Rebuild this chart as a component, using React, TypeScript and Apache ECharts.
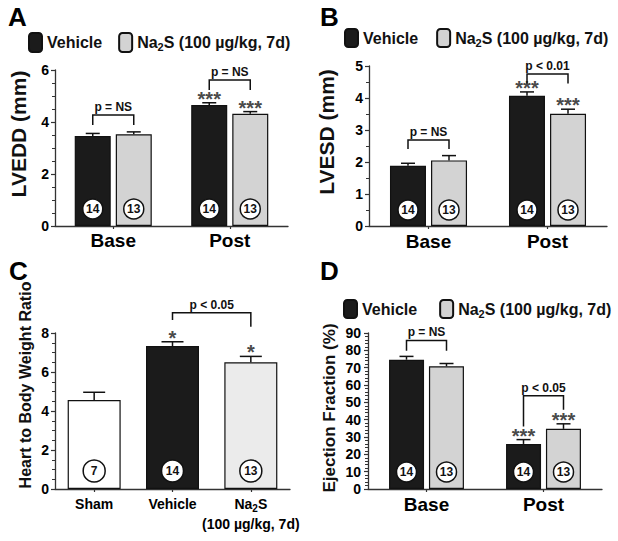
import React, { useEffect, useRef } from 'react';
import * as echarts from 'echarts';

const FONT = '"Liberation Sans", Arial, Helvetica, sans-serif';

// ---------- data ----------
const timepoints = ['Base', 'Post'];
const seriesNames = ['Vehicle', 'Na2S'];

const lveddVehicle = [3.46, 4.65];
const lveddVehicleSem = [0.1, 0.09];
const lveddNa2s = [3.53, 4.32];
const lveddNa2sSem = [0.09, 0.08];

const lvesdVehicle = [1.88, 4.07];
const lvesdVehicleSem = [0.08, 0.12];
const lvesdNa2s = [2.05, 3.51];
const lvesdNa2sSem = [0.15, 0.14];

const efVehicle = [74.6, 26.0];
const efVehicleSem = [1.9, 2.5];
const efNa2s = [70.8, 34.7];
const efNa2sSem = [1.6, 2.9];

const nVehicle = [14, 14];
const nNa2s = [13, 13];
const starsVehicle = ['', '***'];
const starsNa2s = ['', '***'];

const hbwGroups = ['Sham', 'Vehicle', 'Na2S'];
const hbwValues = [4.56, 7.33, 6.5];
const hbwSem = [0.4, 0.22, 0.3];
const hbwN = [7, 14, 13];
const hbwStars = ['', '*', '*'];

// significance brackets (data units)
const lveddBracketTop = [4.27, 5.62];
const lveddBracketLegL = [3.88, 5.23];
const lveddBracketLegR = [3.88, 5.23];
const lveddBracketLabel = ['p = NS', 'p = NS'];

const lvesdBracketTop = [2.69, 4.75];
const lvesdBracketLegL = [2.41, 4.45];
const lvesdBracketLegR = [2.41, 4.45];
const lvesdBracketLabel = ['p = NS', 'p < 0.01'];

const efBracketTop = [85.7, 53.8];
const efBracketLegL = [79.8, 36.0];
const efBracketLegR = [79.8, 45.7];
const efBracketLabel = ['p = NS', 'p < 0.05'];

const hbwBracketFrom = [1];
const hbwBracketTo = [2];
const hbwBracketTop = [9.04];
const hbwBracketLegL = [8.67];
const hbwBracketLegR = [8.32];
const hbwBracketLabel = ['p < 0.05'];

// ---------- styles ----------
const BLACK = '#1b1b1b';
const GRAY = '#d3d3d3';
const LIGHT = '#ebebeb';
const AXIS = '#333';

function xAxisCat(gridIndex: number, data: string[], fontSize: number, margin: number, extra: any = {}) {
  return {
    type: 'category',
    gridIndex,
    data,
    axisLine: { lineStyle: { color: AXIS, width: 1.3 } },
    axisTick: { show: true, alignWithLabel: true, length: 3, lineStyle: { color: AXIS, width: 1.2 } },
    axisLabel: { color: '#000', fontSize, fontWeight: 'bold', fontFamily: FONT, margin, interval: 0, ...extra },
    splitLine: { show: false },
  };
}

function yAxisVal(gridIndex: number, max: number, interval: number, minorSplit: number, margin: number) {
  return {
    type: 'value',
    gridIndex,
    min: 0,
    max,
    interval,
    axisLine: { show: true, lineStyle: { color: AXIS, width: 1.3 } },
    axisTick: { show: true, length: 4, lineStyle: { color: AXIS, width: 1.2 } },
    minorTick: { show: true, splitNumber: minorSplit, length: 3, lineStyle: { color: AXIS, width: 1 } },
    axisLabel: { color: '#000', fontSize: 14, fontWeight: 'bold', fontFamily: FONT, margin },
    splitLine: { show: false },
    minorSplitLine: { show: false },
  };
}

function barSeries(name: string, gridIndex: number, data: any[], color: string, barWidth: number, barGap: string) {
  return {
    type: 'bar',
    name,
    xAxisIndex: gridIndex,
    yAxisIndex: gridIndex,
    data,
    barWidth,
    barGap,
    silent: true,
    itemStyle: { color, borderColor: '#111', borderWidth: 1.2 },
  };
}

function overlaySeries(
  gridIndex: number,
  values: number[],
  sems: number[],
  ns: number[],
  stars: string[],
  offset: number,
  capHalf: number,
  r: number,
  lift: number
) {
  return {
    type: 'custom',
    xAxisIndex: gridIndex,
    yAxisIndex: gridIndex,
    silent: true,
    clip: false,
    z: 5,
    data: values.map((v, i) => [i, v]),
    renderItem: (params: any, api: any) => {
      const i = params.dataIndex;
      const pBar = api.coord([i, values[i]]);
      const pErr = api.coord([i, values[i] + sems[i]]);
      const pZero = api.coord([i, 0]);
      const x = pBar[0] + offset;
      const ls = { stroke: '#111', lineWidth: 1.5 };
      const children: any[] = [
        { type: 'line', shape: { x1: x, y1: pBar[1], x2: x, y2: pErr[1] }, style: ls },
        { type: 'line', shape: { x1: x - capHalf, y1: pErr[1], x2: x + capHalf, y2: pErr[1] }, style: ls },
        {
          type: 'circle',
          shape: { cx: x, cy: pZero[1] - lift, r },
          style: { fill: '#fff', stroke: '#111', lineWidth: 1.5 },
        },
        {
          type: 'text',
          x,
          y: pZero[1] - lift,
          style: {
            text: String(ns[i]),
            font: `bold 12px ${FONT}`,
            fill: '#111',
            align: 'center',
            verticalAlign: 'middle',
          },
        },
      ];
      if (stars[i]) {
        children.push({
          type: 'text',
          x,
          y: pErr[1] - 4,
          style: {
            text: stars[i],
            font: `bold 20px ${FONT}`,
            fill: '#4a4a4a',
            align: 'center',
            verticalAlign: 'middle',
          },
        });
      }
      return { type: 'group', children };
    },
  };
}

function bracketSeries(
  gridIndex: number,
  fromCats: number[],
  toCats: number[],
  offFrom: number,
  offTo: number,
  tops: number[],
  legL: number[],
  legR: number[],
  labels: string[]
) {
  return {
    type: 'custom',
    xAxisIndex: gridIndex,
    yAxisIndex: gridIndex,
    silent: true,
    clip: false,
    z: 6,
    data: fromCats.map((c, i) => [c, tops[i]]),
    renderItem: (params: any, api: any) => {
      const i = params.dataIndex;
      const a = api.coord([fromCats[i], legL[i]]);
      const b = api.coord([toCats[i], legR[i]]);
      const t = api.coord([fromCats[i], tops[i]]);
      const x1 = a[0] + offFrom;
      const x2 = b[0] + offTo;
      return {
        type: 'group',
        children: [
          {
            type: 'polyline',
            shape: { points: [[x1, a[1]], [x1, t[1]], [x2, t[1]], [x2, b[1]]] },
            style: { stroke: '#111', lineWidth: 1.5, fill: null },
          },
          {
            type: 'text',
            x: (x1 + x2) / 2,
            y: t[1] - 2,
            style: {
              text: labels[i],
              font: `bold 12px ${FONT}`,
              fill: '#111',
              align: 'center',
              verticalAlign: 'bottom',
            },
          },
        ],
      };
    },
  };
}

const legendRich = {
  t: { fontSize: 16, fontWeight: 'bold', fontFamily: FONT, color: '#111', lineHeight: 20 },
  s: { fontSize: 11, fontWeight: 'bold', fontFamily: FONT, color: '#111', lineHeight: 20, padding: [9, 0, 0, 0] },
};

function legendAt(left: number, top: number, itemHeight: number, itemGap: number) {
  return {
    left,
    top,
    padding: 0,
    itemWidth: 13,
    itemHeight,
    itemGap,
    selectedMode: false,
    data: seriesNames,
    textStyle: { fontSize: 16, fontWeight: 'bold', fontFamily: FONT, color: '#111', rich: legendRich },
    formatter: (name: string) => (name === 'Na2S' ? '{t|Na}{s|2}{t|S (100 µg/kg, 7d)}' : '{t|' + name + '}'),
  };
}

function yTitle(text: string, x: number, y: number, size: number) {
  return {
    type: 'text',
    x,
    y,
    rotation: Math.PI / 2,
    style: { text, font: `bold ${size}px ${FONT}`, fill: '#111', align: 'center', verticalAlign: 'middle' },
  };
}

function panelLetter(text: string, x: number, y: number) {
  return {
    type: 'text',
    x,
    y,
    style: { text, font: `bold 26px ${FONT}`, fill: '#000', align: 'left', verticalAlign: 'top' },
  };
}

function buildOption(): any {
  const hbwData = hbwValues.map((v, i) => ({
    value: v,
    itemStyle: { color: ['#ffffff', BLACK, LIGHT][i] },
  }));
  return {
    animation: false,
    backgroundColor: '#fff',
    textStyle: { fontFamily: FONT },
    grid: [
      { left: 55, top: 70, width: 233, height: 156 },
      { left: 369, top: 66, width: 238, height: 160 },
      { left: 55, top: 333, width: 235, height: 156 },
      { left: 368, top: 333, width: 234, height: 156 },
    ],
    xAxis: [
      xAxisCat(0, timepoints, 19, 5),
      xAxisCat(1, timepoints, 19, 6),
      xAxisCat(2, hbwGroups, 14, 5, {
        formatter: (v: string) =>
          v === 'Na2S' ? '{b|Na}{s|2}{b|S}\n{b|(100 µg/kg, 7d)}' : '{b|' + v + '}',
        rich: {
          b: { fontSize: 14, fontWeight: 'bold', fontFamily: FONT, color: '#000', lineHeight: 20 },
          s: { fontSize: 10, fontWeight: 'bold', fontFamily: FONT, color: '#000', lineHeight: 20, padding: [8, 0, 0, 0] },
        },
      }),
      xAxisCat(3, timepoints, 19, 6),
    ],
    yAxis: [
      yAxisVal(0, 6, 2, 4, 6),
      yAxisVal(1, 5, 1, 2, 6),
      yAxisVal(2, 8, 2, 4, 6),
      yAxisVal(3, 90, 10, 5, 7),
    ],
    legend: [legendAt(28, 32, 19, 16), legendAt(344, 28, 18, 18), legendAt(343, 299, 18, 22)],
    graphic: [
      panelLetter('A', 8, 4),
      panelLetter('B', 320, 4),
      panelLetter('C', 9, 258),
      panelLetter('D', 320, 258),
      yTitle('LVEDD (mm)', 18, 134, 21),
      yTitle('LVESD (mm)', 326, 132, 21),
      yTitle('Heart to Body Weight Ratio', 25, 385, 16),
      yTitle('Ejection Fraction (%)', 329, 408, 17),
    ],
    series: [
      barSeries('Vehicle', 0, lveddVehicle, BLACK, 36, '14%'),
      barSeries('Na2S', 0, lveddNa2s, GRAY, 36, '14%'),
      barSeries('Vehicle', 1, lvesdVehicle, BLACK, 36, '14%'),
      barSeries('Na2S', 1, lvesdNa2s, GRAY, 36, '14%'),
      barSeries('HBW', 2, hbwData, LIGHT, 53, '0%'),
      barSeries('Vehicle', 3, efVehicle, BLACK, 35, '14%'),
      barSeries('Na2S', 3, efNa2s, GRAY, 35, '14%'),

      overlaySeries(0, lveddVehicle, lveddVehicleSem, nVehicle, starsVehicle, -20.5, 7, 10, 17),
      overlaySeries(0, lveddNa2s, lveddNa2sSem, nNa2s, starsNa2s, 20.5, 7, 10, 17),
      overlaySeries(1, lvesdVehicle, lvesdVehicleSem, nVehicle, starsVehicle, -20.5, 7, 10, 16),
      overlaySeries(1, lvesdNa2s, lvesdNa2sSem, nNa2s, starsNa2s, 20.5, 7, 10, 16),
      overlaySeries(2, hbwValues, hbwSem, hbwN, hbwStars, 0, 11, 11, 18),
      overlaySeries(3, efVehicle, efVehicleSem, nVehicle, starsVehicle, -20, 7, 10, 17),
      overlaySeries(3, efNa2s, efNa2sSem, nNa2s, starsNa2s, 20, 7, 10, 17),

      bracketSeries(0, [0, 1], [0, 1], -20.5, 20.5, lveddBracketTop, lveddBracketLegL, lveddBracketLegR, lveddBracketLabel),
      bracketSeries(1, [0, 1], [0, 1], -20.5, 20.5, lvesdBracketTop, lvesdBracketLegL, lvesdBracketLegR, lvesdBracketLabel),
      bracketSeries(2, hbwBracketFrom, hbwBracketTo, 0, 0, hbwBracketTop, hbwBracketLegL, hbwBracketLegR, hbwBracketLabel),
      bracketSeries(3, [0, 1], [0, 1], -20, 20, efBracketTop, efBracketLegL, efBracketLegR, efBracketLabel),
    ],
  };
}

export default function App() {
  const ref = useRef<HTMLDivElement>(null);
  useEffect(() => {
    if (!ref.current) return;
    const chart = echarts.init(ref.current, null, { renderer: 'svg' });
    chart.setOption(buildOption());
    return () => chart.dispose();
  }, []);
  return (
    <div
      ref={ref}
      style={{ position: 'fixed', left: 0, top: 0, width: 618, height: 541, background: '#fff' }}
    />
  );
}
